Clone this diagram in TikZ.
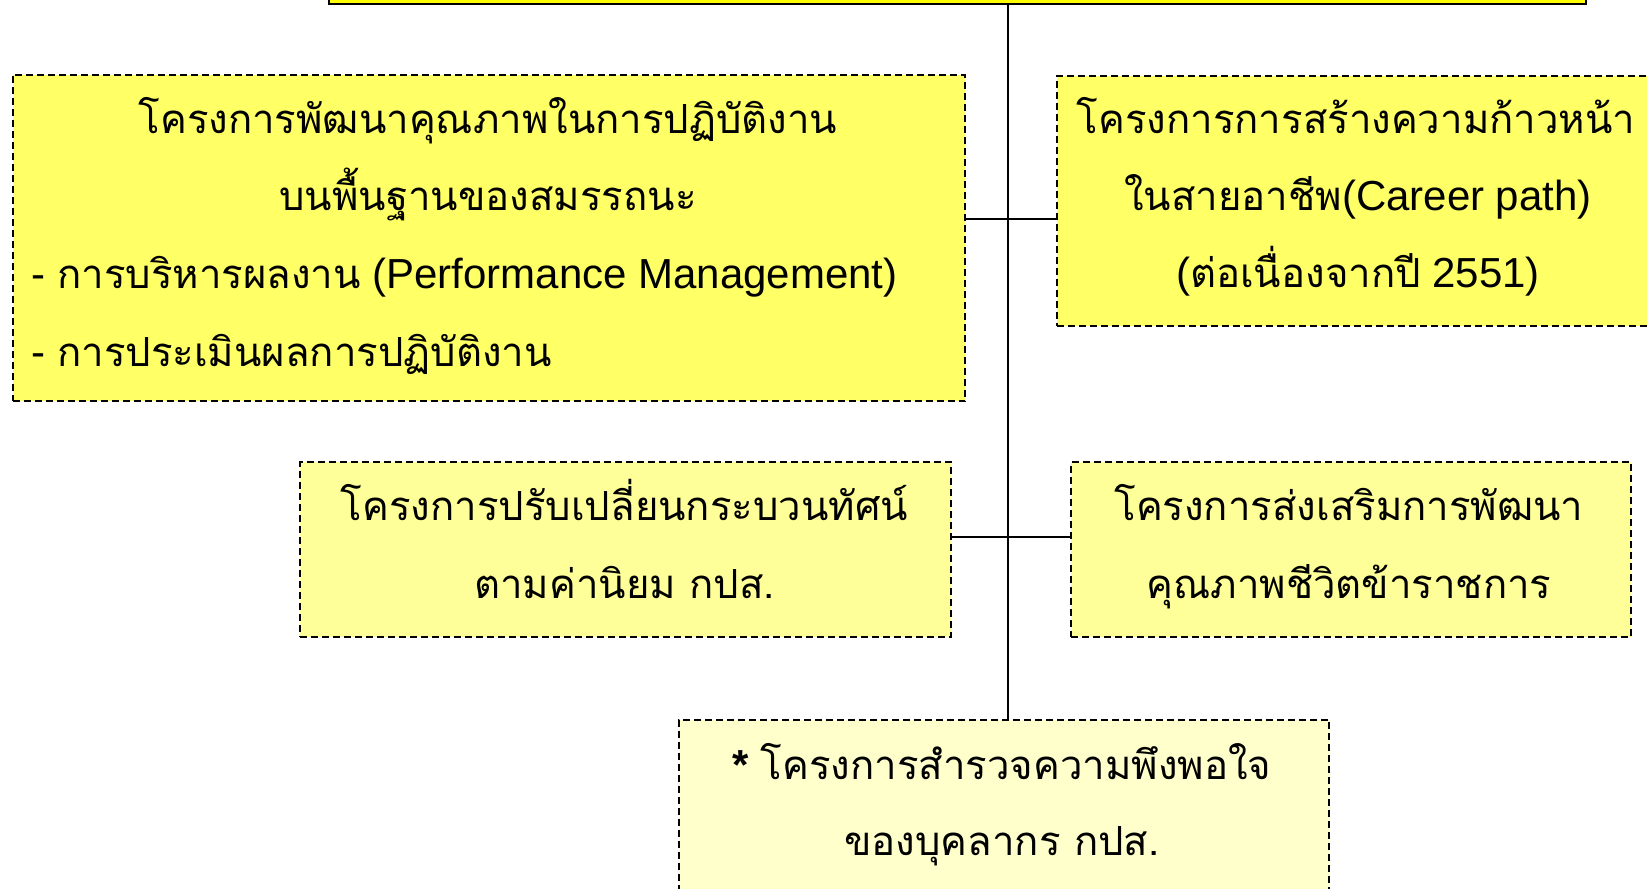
\documentclass[tikz,border=0pt]{standalone}
\usepackage{fontspec}
\setmainfont{Liberation Sans}
\newfontfamily\thaifont[Script=Thai,Scale=0.955]{Loma}
\newcommand\thtxt[1]{{\thaifont #1}}
\definecolor{ylwA}{HTML}{FFFF66}
\definecolor{ylwB}{HTML}{FFFF99}
\definecolor{ylwC}{HTML}{FFFFCC}
\definecolor{ylwTop}{HTML}{FFFF00}
\begin{document}
\begin{tikzpicture}[x=1pt,y=-1pt,
  boxstyle/.style={draw, dash pattern=on 7pt off 4pt, line width=2.2pt,
    inner sep=0pt, anchor=north west},
  topstyle/.style={draw, line width=2pt, fill=ylwTop, inner sep=0pt, anchor=south west},
  conn/.style={line width=2pt},
  txt/.style={inner sep=0pt, anchor=base, font=\fontsize{42}{50}\selectfont},
  txtl/.style={txt, anchor=base west}]
\useasboundingbox (0,0) rectangle (1647,889);
\clip (0,0) rectangle (1647,889);
\fill[white] (0,0) rectangle (1647,889);

% boxes
\node (top) [topstyle, minimum width=1257pt, minimum height=80pt] at (328,4.5) {};
\node (b1) [boxstyle, fill=ylwA, minimum width=952.5pt, minimum height=326.5pt] at (11.5,73.5) {};
\node (b2) [boxstyle, fill=ylwA, minimum width=604pt, minimum height=250pt] at (1056,74.5) {};
\node (b3) [boxstyle, fill=ylwB, minimum width=651pt, minimum height=174.5pt] at (299,461) {};
\node (b4) [boxstyle, fill=ylwB, minimum width=560pt, minimum height=174.5pt] at (1070,461) {};
\node (b5) [boxstyle, fill=ylwC, minimum width=650.5pt, minimum height=250pt] at (677.5,718.5) {};

% connectors
\coordinate (spine) at (1008,0);
\coordinate (h1) at (1008,219);
\coordinate (h2) at (1008,537);
\draw[conn] (top.south -| spine) -- (b5.north -| spine);
\draw[conn] (b1.east |- h1) -- (b2.west |- h1);
\draw[conn] (b3.east |- h2) -- (b4.west |- h2);

% texts box 1
\node (t11) [txt] at (488,133) {\thtxt{โครงการพัฒนาคุณภาพในการปฏิบัติงาน}};
\node (t12) [txt] at (488,210) {\thtxt{บนพื้นฐานของสมรรถนะ}};
\node (t13) [txtl] at (31.5,288) {- \thtxt{การบริหารผลงาน} (Performance Management)};
\node (t14) [txtl] at (31.5,366) {- \thtxt{การประเมินผลการปฏิบัติงาน}};
% box 2
\node (t21) [txt] at (1356,133) {\thtxt{โครงการการสร้างความก้าวหน้า}};
\node (t22) [txt] at (1358,210) {\thtxt{ในสายอาชีพ}(Career path)};
\node (t23) [txt] at (1358,287) {(\thtxt{ต่อเนื่องจากปี} 2551)};
% box 3
\node (t31) [txt] at (624.5,520) {\thtxt{โครงการปรับเปลี่ยนกระบวนทัศน์}};
\node (t32) [txt] at (624.5,598) {\thtxt{ตามค่านิยม กปส.}};
% box 4
\node (t41) [txt] at (1349,520) {\thtxt{โครงการส่งเสริมการพัฒนา}};
\node (t42) [txt] at (1349,598) {\thtxt{คุณภาพชีวิตข้าราชการ}};
% box 5
\node (t51) [txt] at (1002,779) {\textbf{*} \thtxt{โครงการสำรวจความพึงพอใจ}};
\node (t52) [txt] at (1002,855) {\thtxt{ของบุคลากร กปส.}};
\end{tikzpicture}
\end{document}
